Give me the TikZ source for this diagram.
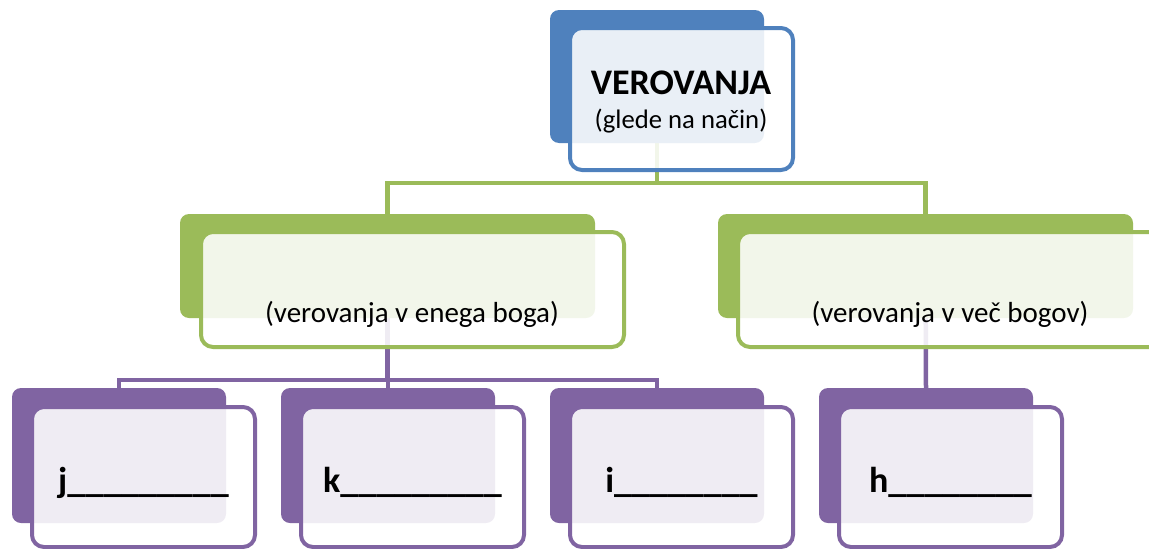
\documentclass[tikz,border=0pt]{standalone}
\usepackage{fontspec}
\setmainfont{Carlito}
\pgfdeclarelayer{bg}
\pgfsetlayers{bg,main}
\definecolor{cblue}{HTML}{4F81BD}
\definecolor{cgreen}{HTML}{9BBB59}
\definecolor{cpurple}{HTML}{8064A2}
\tikzset{
  back/.style={rectangle, rounded corners=9pt, inner sep=0pt, fill=#1, draw=none},
  front/.style={rectangle, rounded corners=12pt, inner sep=0pt, draw=#1, line width=4pt, fill=white, fill opacity=0.88},
  conn/.style={draw=#1, line width=4.5pt},
  big/.style={font=\fontsize{36}{40}\selectfont\bfseries, anchor=base, inner sep=0pt},
  sub/.style={font=\fontsize{26.7}{30}\selectfont, anchor=base, inner sep=0pt},
  mid/.style={font=\fontsize{29}{32}\selectfont, anchor=base, inner sep=0pt},
  blank/.style={font=\fontsize{36}{40}\selectfont\bfseries, anchor=base, inner sep=0pt}
}
\begin{document}
\begin{tikzpicture}[x=1pt,y=-1pt]
\useasboundingbox (0,0) rectangle (1149,549);
% top
\node[back=cblue, minimum width=214pt, minimum height=133pt] (tb) at (657,76.5) {};
\node[front=cblue, minimum width=223pt, minimum height=142pt] (tf) at (681.5,99) {};
\node[big] (t1) at (681,94) {VEROVANJA};
\node[sub] (t2) at (681,128) {(glede na način)};
% green
\node[back=cgreen, minimum width=415pt, minimum height=104pt] (glb) at (387.5,266) {};
\node[front=cgreen, minimum width=423pt, minimum height=115pt] (glf) at (412.5,289.5) {};
\node[mid] (glt) at (412,322) {(verovanja v enega boga)};
\node[back=cgreen, minimum width=415pt, minimum height=104pt] (grb) at (925.5,266) {};
\node[front=cgreen, minimum width=423pt, minimum height=115pt] (grf) at (949.5,289.5) {};
\node[mid] (grt) at (950,322) {(verovanja v več bogov)};
% purple
\foreach \n/\x/\t in {p1/12/j\_\_\_\_\_\_\_\_\_, p2/281/k\_\_\_\_\_\_\_\_\_, p3/550/i\_\_\_\_\_\_\_\_, p4/819/h\_\_\_\_\_\_\_\_}{
  \node[back=cpurple, minimum width=214pt, minimum height=135pt] (\n b) at (\x+107,455.5) {};
  \node[front=cpurple, minimum width=223pt, minimum height=140pt] (\n f) at (\x+131.5,477) {};
  \node[blank] (\n t) at (\x+131.5,492) {\t};
}
\begin{pgfonlayer}{bg}
\coordinate (gh) at (657,183);
\draw[conn=cgreen] (tb.center) -- (gh);
\draw[conn=cgreen] (glb.north -| glb.center) |- (gh) -| (grb.north);
\coordinate (ph) at (387.5,380);
\draw[conn=cpurple] (glb.center) -- (ph);
\draw[conn=cpurple] (p1b.north) |- (ph) -| (p3b.north);
\draw[conn=cpurple] (p2b.north) -- (p2b.north |- ph);
\draw[conn=cpurple] (grb.center) -- (p4b.north);
\end{pgfonlayer}
\end{tikzpicture}
\end{document}
